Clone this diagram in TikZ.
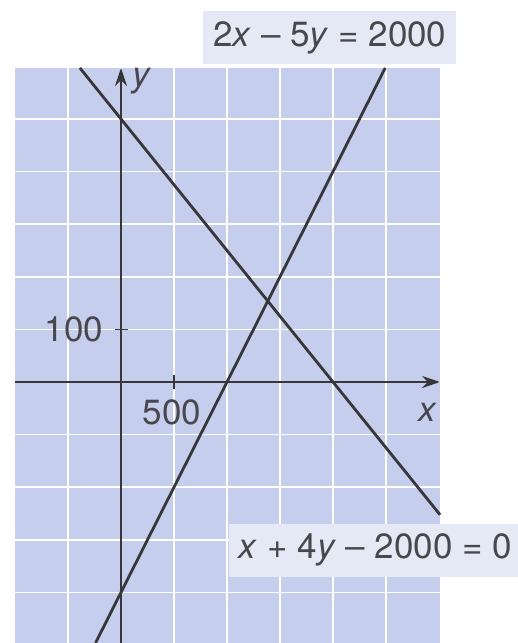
\documentclass[tikz,border=0pt]{standalone}
\usepackage{fontspec}
\setmainfont{TeX Gyre Heros}
\usetikzlibrary{arrows.meta,calc,positioning}
\definecolor{paper}{RGB}{197,206,237}
\definecolor{ink}{RGB}{55,55,58}
\definecolor{txt}{RGB}{72,72,76}
\definecolor{tagbg}{RGB}{229,233,246}

\begin{document}
\begin{tikzpicture}[x=26.5pt,y=26.3pt,
  axis/.style={-{Stealth[length=9pt,width=6pt]},ink,line width=1pt},
  graph/.style={ink,line width=1.4pt},
  lbl/.style={text=txt,font=\fontsize{17.5}{20}\selectfont,inner sep=0pt},
  eqtag/.style={lbl,fill=tagbg,inner xsep=5pt,inner ysep=5pt}]
  \useasboundingbox (-2.283,-4.962) rectangle (7.472,7.262);

  % paper and grid
  \fill[paper] (-2,-4.962) rectangle (6.02,5.97);
  \foreach \x in {-1,...,5}
    \draw[white,line width=0.8pt] (\x,-4.962) -- (\x,5.97);
  \foreach \y in {-4,...,5}
    \draw[white,line width=0.8pt] (-2,\y) -- (6.02,\y);

  % axes
  \coordinate (xl) at (-2,0);
  \coordinate (xr) at (6.02,0);
  \coordinate (yb) at (0,-4.962);
  \coordinate (yt) at (0,5.97);
  \draw[axis] (xl) -- (xr);
  \draw[axis] (yb) -- (yt);
  \draw[ink,line width=0.8pt] (1,-0.13) -- (1,0.13);
  \draw[ink,line width=0.8pt] (-0.11,1) -- (0.13,1);
  \node[lbl] (xname) at (5.79,-0.57) {\textit{x}};
  \node[lbl] (yname) at (0.40,5.72) {\textit{y}};
  \node[lbl] (xtick) at (0.96,-0.57) {500};
  \node[lbl,anchor=east] (ytick) at (-0.33,1) {100};

  % x + 4y = 2000
  \coordinate (pa) at (-0.776,5.97);
  \coordinate (pb) at (6.02,-2.525);
  \draw[graph] (pa) -- (pb);
  % 2x - 5y = 2000
  \coordinate (qa) at (-0.481,-4.962);
  \coordinate (qb) at (4.985,5.97);
  \draw[graph] (qa) -- (qb);

  % equations
  \node[eqtag,minimum width=125pt,minimum height=23pt] (eqtop) at (3.94,6.55)
    {2\textit{x} – 5\textit{y} = 2000};
  \node[eqtag,anchor=west,minimum height=24pt] (eqbot) at (2.03,-3.2)
    {\textit{x} + 4\textit{y} – 2000 = 0};
\end{tikzpicture}
\end{document}
